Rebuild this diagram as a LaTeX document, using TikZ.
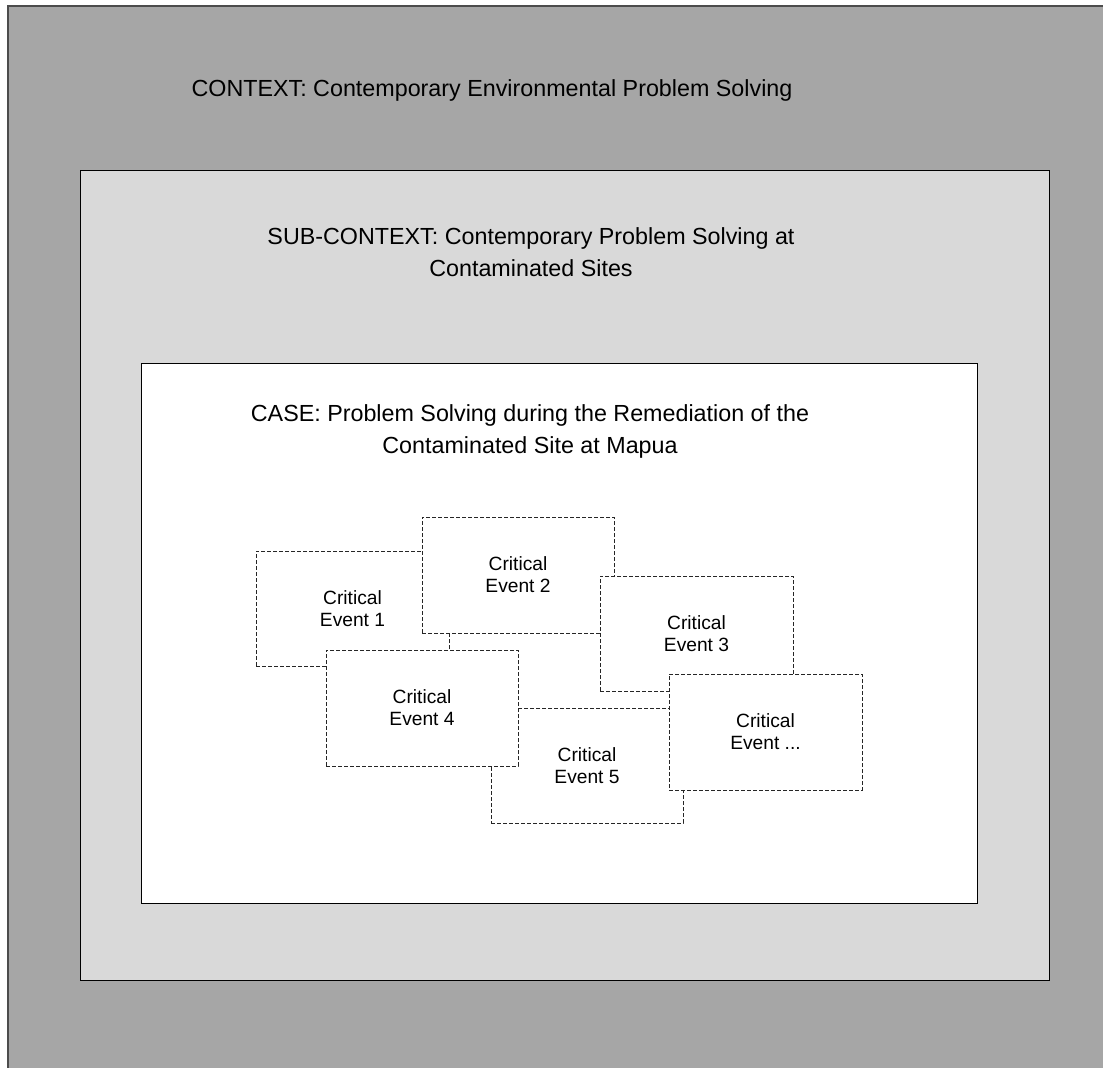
\documentclass[tikz,border=0pt]{standalone}
\usepackage{fontspec}
\setmainfont{Liberation Sans}
\definecolor{outergray}{HTML}{A6A6A6}
\definecolor{innergray}{HTML}{D9D9D9}
\begin{document}
\begin{tikzpicture}[x=1bp,y=-1bp,
  panel/.style={line width=1bp, draw=black},
  heading/.style={align=center, inner sep=0pt, font=\fontsize{23.3bp}{32bp}\selectfont},
  evbox/.style={draw=black!85, dash pattern=on 4bp off 2bp, line width=0.9bp,
    fill=white, inner sep=0pt, align=center,
    font=\fontsize{19.2bp}{22bp}\selectfont}]
\useasboundingbox (0,0) rectangle (1103,1068);
\fill[white] (0,0) rectangle (1103,1068);

% outer context panel, running past the right and bottom edges
\begin{scope}
  \clip (0,0) rectangle (1103,1068);
  \draw[panel, line width=1.2bp, draw=black!70, fill=outergray] (8,6) rectangle (1130,1090);
\end{scope}
\node[heading] (context) at (492,90) {CONTEXT: Contemporary Environmental Problem Solving};

% sub-context panel
\draw[panel, fill=innergray] (80,170) rectangle (1049,980);
\node[heading] (subcontext) at (531,252) {SUB-CONTEXT: Contemporary Problem Solving at\\Contaminated Sites};

% case panel
\draw[panel, fill=white] (141,363) rectangle (977,903);
\node[heading] (case) at (530,431) {CASE: Problem Solving during the Remediation of the\\Contaminated Site at Mapua};

% critical events, stacked in drawing order
\node[evbox, minimum width=193bp, minimum height=115bp] (e1) at (352.5,608.5) {Critical\\Event 1};
\node[evbox, minimum width=192bp, minimum height=116bp] (e2) at (518,575) {Critical\\Event 2};
\node[evbox, minimum width=193bp, minimum height=115bp] (e3) at (696.5,633.5) {Critical\\Event 3};
\node[evbox, minimum width=192bp, minimum height=115bp] (e5) at (587,765.5) {Critical\\Event 5};
\node[evbox, minimum width=192bp, minimum height=116bp] (e4) at (422,708) {Critical\\Event 4};
\node[evbox, minimum width=193bp, minimum height=116bp] (e6) at (765.5,732) {Critical\\Event ...};
\end{tikzpicture}
\end{document}
